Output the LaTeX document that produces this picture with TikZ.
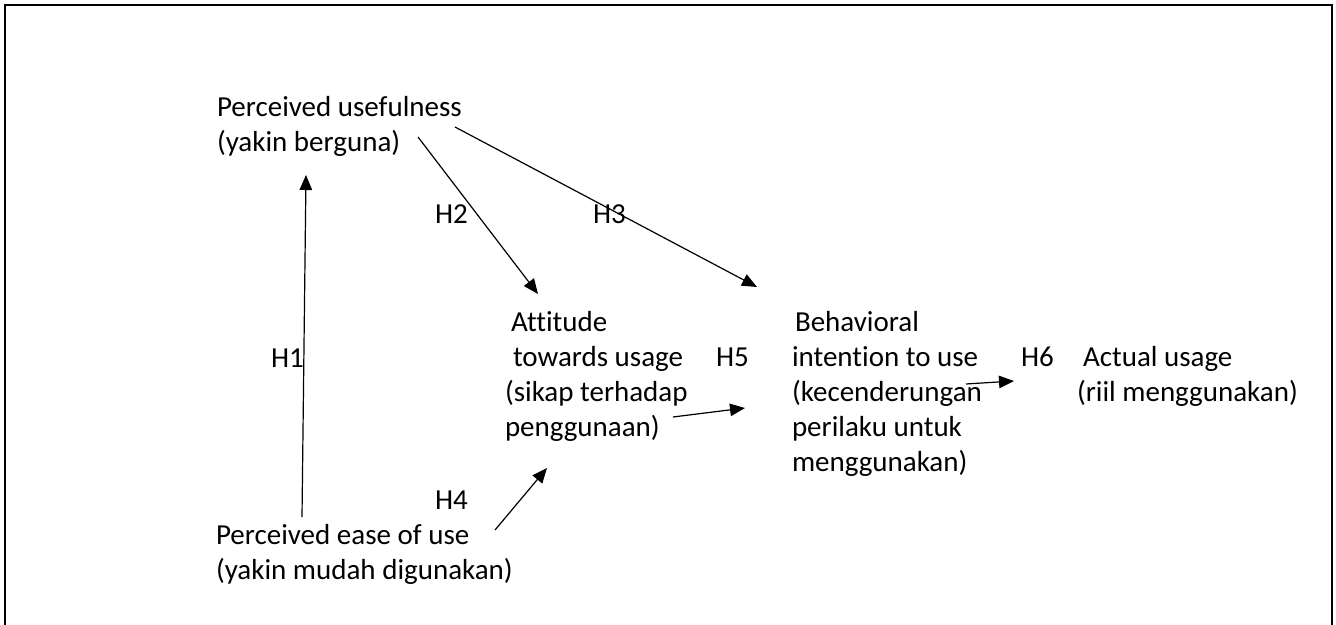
\documentclass[tikz,border=0pt]{standalone}
\usepackage{fontspec}
\setmainfont{Carlito}[Ligatures={NoCommon}]
\usetikzlibrary{arrows.meta}
\tikzset{
  txt/.style={anchor=base west, inner sep=0pt, outer sep=0pt, align=left, font=\fontsize{29}{35}\selectfont},
  arr/.style={line width=1.2pt, -{Triangle[length=15pt,width=12.5pt]}},
  frame/.style={line width=2pt}
}
\begin{document}
\begin{tikzpicture}[x=1pt,y=-1pt]
\useasboundingbox (0,0) rectangle (1336,624);
\fill[white] (0,0) rectangle (1336,624);
\draw[frame] (5,700) -- (5,5) -- (1332,5) -- (1332,700);
% text blocks (anchored at the baseline of their last line)
\node[txt] (pu) at (217,151) {Perceived usefulness\\(yakin berguna)};
\node[txt] (peou) at (216,579) {Perceived ease of use\\(yakin mudah digunakan)};
\node[txt] (att) at (505,436) {\hspace*{6pt}Attitude\\\hspace*{8pt}towards usage\\(sikap terhadap\\penggunaan)};
\node[txt] (bi) at (792,471) {\hspace*{3pt}Behavioral\\intention to use\\(kecenderungan\\perilaku untuk\\menggunakan)};
\node[txt] (au) at (1077,401) {\hspace*{6pt}Actual usage\\(riil menggunakan)};
% labels
\node[txt] (h1) at (271,367) {H1};
\node[txt] (h2) at (435,223) {H2};
\node[txt] (h3) at (593,223) {H3};
\node[txt] (h4) at (435,509) {H4};
\node[txt] (h5) at (716,366) {H5};
\node[txt] (h6) at (1021,366) {H6};
% arrow end points
\coordinate (h1s) at (302,517);
\coordinate (h1e) at (306,175);
\coordinate (h2s) at (418,137);
\coordinate (h2e) at (538,294);
\coordinate (h3s) at (455,127);
\coordinate (h3e) at (757,287);
\coordinate (h4s) at (495,530);
\coordinate (h4e) at (547,468);
\coordinate (h5s) at (673,417);
\coordinate (h5e) at (745,408);
\coordinate (h6s) at (966,384);
\coordinate (h6e) at (1014,381);
\draw[arr] (h1s) -- (h1e);
\draw[arr] (h2s) -- (h2e);
\draw[arr] (h3s) -- (h3e);
\draw[arr] (h4s) -- (h4e);
\draw[arr] (h5s) -- (h5e);
\draw[arr] (h6s) -- (h6e);
\end{tikzpicture}
\end{document}
